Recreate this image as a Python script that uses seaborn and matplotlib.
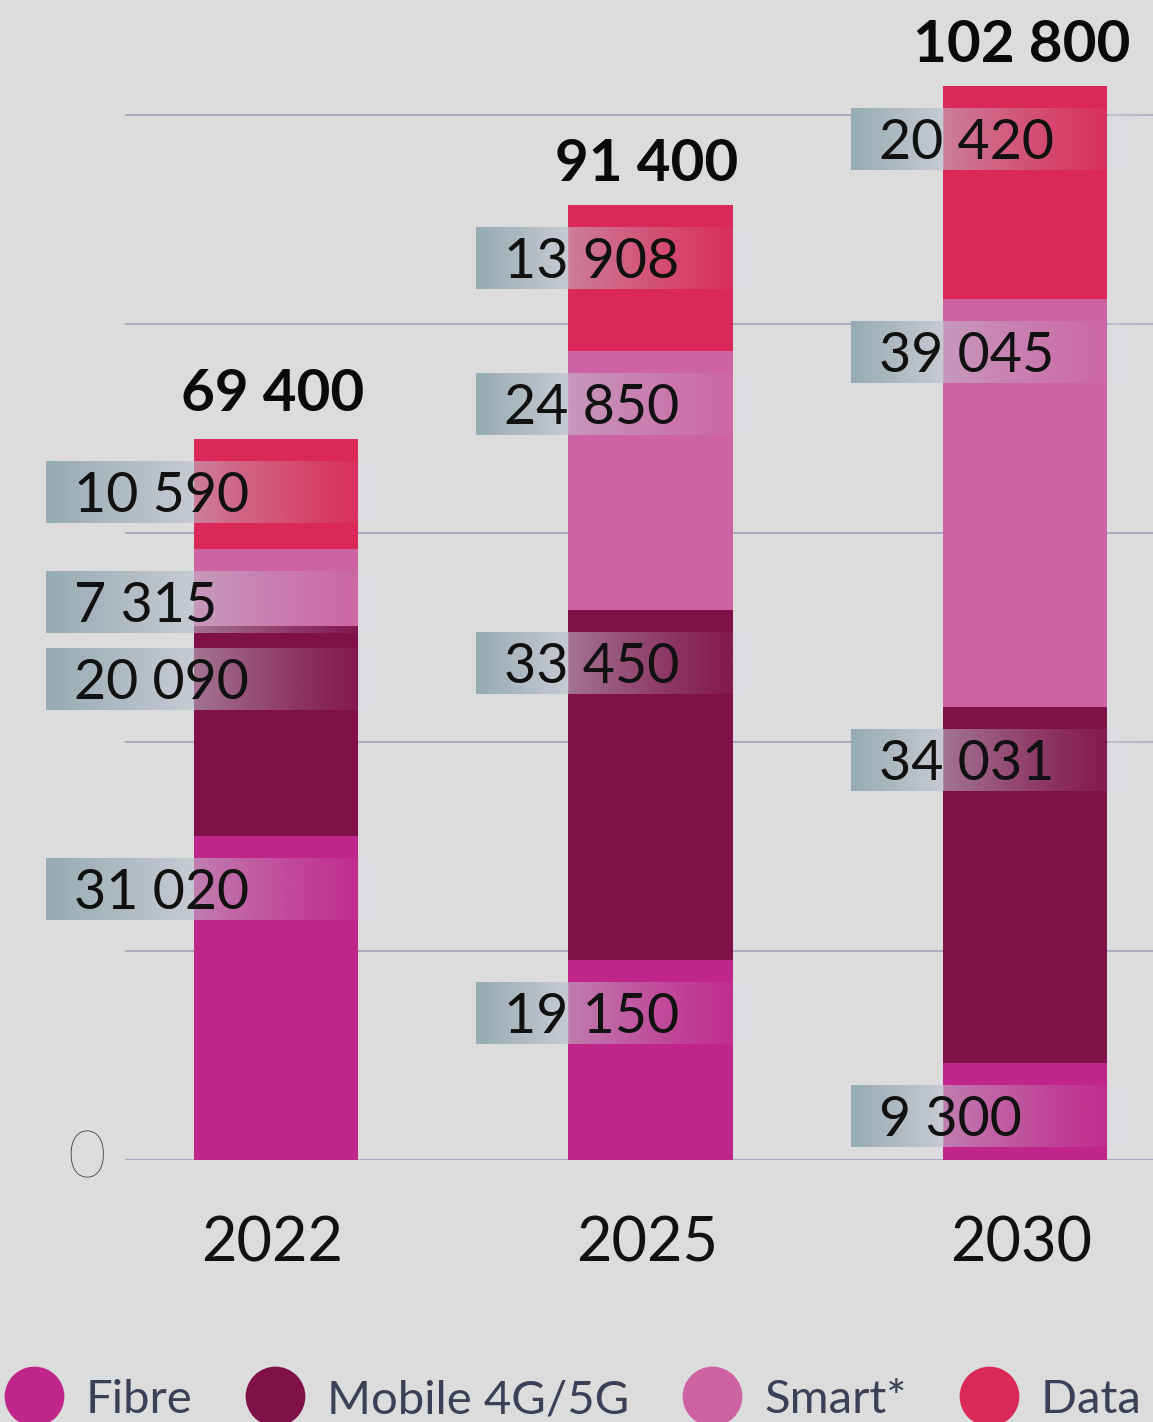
#Import packages
import numpy as np
import pandas as pd
import matplotlib.pyplot as plt
import seaborn as sns
from matplotlib.lines import Line2D

#Chart values
years = ["2022", "2025", "2030"]
segments = ["Fibre", "Mobile 4G/5G", "Smart*", "Data centres"]
fibre = [31020, 19150, 9300]
mobile = [20090, 33450, 34031]
smart = [7315, 24850, 39045]
data_centres = [10590, 13908, 20420]
totals = [69400, 91400, 102800]
grid_values = [0, 20000, 40000, 60000, 80000, 100000]

colours = ["#C0258A", "#7F1048", "#CD63A3", "#DA2858"]

#Figure geometry in pixels
W, H, DPI = 1153, 1422, 100
ax_left_px, zero_px = 125, 1160
px_per_x = 374.5          #pixels between two bars
px_per_y = 0.01045        #pixels per unit of value
first_bar_px = 276
bar_w = 0.44

sns.set_style("white")
plt.rcParams["font.family"] = ["Lato", "DejaVu Sans"]

fig = plt.figure(figsize=(W / DPI, H / DPI), dpi=DPI)
fig.patch.set_facecolor("#DCDCDD")
ax = fig.add_axes([ax_left_px / W, (H - zero_px) / H, 1 - ax_left_px / W, (zero_px - 10) / H])
ax.set_facecolor("none")

xlim = ((ax_left_px - first_bar_px) / px_per_x, (W - first_bar_px) / px_per_x)
ylim = (0, (zero_px - 10) / px_per_y)

def px_x(p):
    return p / px_per_x

def px_y(p):
    return p / px_per_y

#Stacked bars: draw cumulative layers from the top down
values = np.array([fibre, mobile, smart, data_centres])
layers = np.cumsum(values, axis=0)
for i in reversed(range(4)):
    sns.barplot(x=years, y=layers[i], color=colours[i], width=bar_w,
                saturation=1, linewidth=0, ax=ax, zorder=2)

#Grid lines
for v in grid_values:
    ax.axhline(v, color="#A9ABC0", lw=1.5, zorder=1)

#Gradient box behind each value label
def box_gradient(x0, bl, br, x1, n=500):
    xs = np.linspace(x0, x1, n)
    rgba = np.zeros((1, n, 4))
    left = xs < bl
    t = (xs[left] - x0) / (bl - x0)
    c0 = np.array([150, 171, 179]) / 255
    c1 = np.array([199, 202, 211]) / 255
    rgba[0, left, :3] = c0 + np.outer(t, c1 - c0)
    rgba[0, left, 3] = 1
    on = (xs >= bl) & (xs <= br)
    t = (xs[on] - bl) / (br - bl)
    rgba[0, on, :3] = np.array([192, 196, 206]) / 255
    rgba[0, on, 3] = 0.5 * (1 - t) ** 1.2 + 0.06
    out = xs > br
    t = (xs[out] - br) / (x1 - br)
    rgba[0, out, :3] = np.array([222, 218, 226]) / 255
    rgba[0, out, 3] = 0.5 * (1 - t)
    return rgba

left_pad = [148, 92, 92]
box_h = px_y(62)
for j in range(len(years)):
    bl, br = j - bar_w / 2, j + bar_w / 2
    x0 = bl - px_x(left_pad[j])
    x1 = br + px_x(70)
    for i in range(4):
        yc = layers[i][j] - px_y(53)
        ax.imshow(box_gradient(x0, bl, br, x1),
                  extent=[x0, x1, yc - box_h / 2, yc + box_h / 2],
                  aspect="auto", zorder=3, clip_on=False, interpolation="bilinear")
        ax.text(x0 + px_x(28), yc - px_y(20), f"{values[i][j]:,}".replace(",", " "),
                fontsize=40, color="#111111", va="baseline", ha="left", zorder=4)
    #Total on top
    ax.text(j - 0.01, totals[j] + px_y(24), f"{totals[j]:,}".replace(",", " "),
            fontsize=42, fontweight="bold", color="#0A0A0A", ha="center", va="baseline")
    #Year label
    ax.text(j - 0.01, -px_y(102), years[j], fontsize=44, color="#111111",
            ha="center", va="baseline", clip_on=False)

#Zero label
ax.text(px_x(86 - first_bar_px), 0, "0", fontsize=48, fontweight="light",
        color="#333333", ha="center", va="center", clip_on=False)

ax.set_xlim(xlim)
ax.set_ylim(ylim)
ax.set_xticks([])
ax.set_yticks([])
ax.set_xlabel("")
ax.set_ylabel("")
sns.despine(ax=ax, left=True, bottom=True)

#Legend at the bottom
handles = [Line2D([], [], marker="o", ls="", markersize=43, markerfacecolor=c,
                  markeredgewidth=0) for c in colours]
fig.legend(handles, segments, loc="center left", bbox_to_anchor=(0.003, 22 / H),
           ncol=4, frameon=False, fontsize=34, handlelength=1.3, handletextpad=0.45,
           columnspacing=1.1, borderpad=0, borderaxespad=0, labelcolor="#3B4057")

fig.savefig("out.png", dpi=DPI, facecolor=fig.get_facecolor())
